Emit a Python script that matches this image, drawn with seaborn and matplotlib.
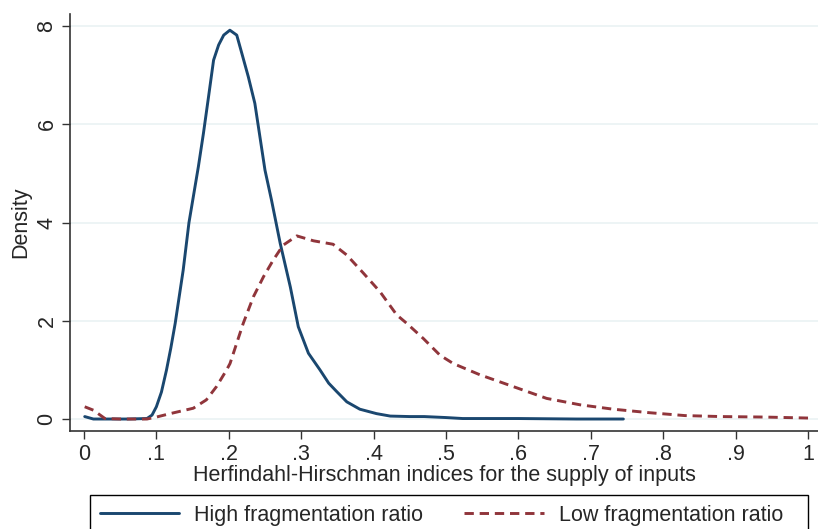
import numpy as np
import pandas as pd
import matplotlib
matplotlib.use("Agg")
import matplotlib.pyplot as plt
from matplotlib.lines import Line2D
from matplotlib.patches import Rectangle
import seaborn as sns

# High fragmentation ratio (kernel density)
high_x = [0.001, 0.013, 0.03, 0.06, 0.087, 0.094, 0.100, 0.107, 0.114, 0.120, 0.126,
          0.137, 0.145, 0.158, 0.165, 0.172, 0.179, 0.186, 0.193, 0.2015, 0.211, 0.218,
          0.227, 0.236, 0.243, 0.250, 0.259, 0.271, 0.285, 0.296, 0.310, 0.326, 0.338,
          0.349, 0.363, 0.381, 0.404, 0.423, 0.45, 0.47, 0.50, 0.523, 0.60, 0.68, 0.745]
high_y = [0.05, 0.0, 0.0, 0.0, 0.01, 0.08, 0.25, 0.55, 1.0, 1.45, 1.95,
          3.03, 4.0, 5.14, 5.82, 6.56, 7.31, 7.62, 7.82, 7.92, 7.82, 7.45,
          6.97, 6.43, 5.75, 5.07, 4.46, 3.58, 2.69, 1.88, 1.34, 1.0, 0.73,
          0.56, 0.35, 0.2, 0.11, 0.06, 0.05, 0.05, 0.03, 0.01, 0.01, 0.0, 0.0]

# Low fragmentation ratio
low_x = [0.001, 0.013, 0.029, 0.05, 0.087, 0.10, 0.119, 0.151, 0.169, 0.183, 0.197,
         0.2017, 0.22, 0.234, 0.248, 0.2615, 0.275, 0.294, 0.317, 0.344, 0.363, 0.386,
         0.409, 0.432, 0.4457, 0.4687, 0.4917, 0.51, 0.547, 0.593, 0.639, 0.685, 0.731,
         0.78, 0.83, 0.88, 0.94, 1.0]
low_y = [0.25, 0.18, 0.01, 0.0, 0.0, 0.04, 0.11, 0.22, 0.39, 0.66, 1.0,
         1.13, 1.95, 2.49, 2.9, 3.24, 3.54, 3.73, 3.63, 3.56, 3.34, 2.97,
         2.59, 2.12, 1.95, 1.64, 1.30, 1.13, 0.90, 0.66, 0.42, 0.29, 0.2,
         0.13, 0.07, 0.05, 0.04, 0.02]

series_names = ["High fragmentation ratio", "Low fragmentation ratio"]
x_ticks = [0, 0.1, 0.2, 0.3, 0.4, 0.5, 0.6, 0.7, 0.8, 0.9, 1.0]
x_tick_labels = ["0", ".1", ".2", ".3", ".4", ".5", ".6", ".7", ".8", ".9", "1"]
y_ticks = [0, 2, 4, 6, 8]

df = pd.concat([
    pd.DataFrame({"x": high_x, "y": high_y, "group": series_names[0]}),
    pd.DataFrame({"x": low_x, "y": low_y, "group": series_names[1]}),
])

sns.set_theme(style="white")
plt.rcParams["font.family"] = ["Liberation Sans", "DejaVu Sans"]

FS = 15.5
W, H = 818, 529
fig = plt.figure(figsize=(W / 100, H / 100), dpi=100)
ax = fig.add_axes([70 / W, 1 - 431 / H, (818 - 70) / W, (431 - 14) / H])

blue, red = "#1a476f", "#90353b"
palette = {series_names[0]: blue, series_names[1]: red}
sns.lineplot(data=df, x="x", y="y", hue="group", style="group", palette=palette,
             dashes={series_names[0]: "", series_names[1]: (3.2, 2.0)},
             linewidth=2.1, ax=ax, sort=False, estimator=None, legend=False)

ax.set_xlim(-0.0193, 1.0138)
ax.set_ylim(-0.244, 8.25)
ax.set_xticks(x_ticks)
ax.set_xticklabels(x_tick_labels)
ax.set_yticks(y_ticks)
ax.set_yticklabels([str(v) for v in y_ticks], rotation=90, va="center")
for v in y_ticks:
    ax.axhline(v, color="#eaf2f3", lw=1.2, zorder=0)

ax.tick_params(axis="both", direction="out", length=6, width=1, color="#333333",
               labelsize=FS, pad=3, bottom=True, left=True)
ax.set_xlabel("Herfindahl-Hirschman indices for the supply of inputs", fontsize=FS, labelpad=0)
ax.set_ylabel("Density", fontsize=FS, labelpad=4)

for s in ["top", "right"]:
    ax.spines[s].set_visible(False)
for s in ["left", "bottom"]:
    ax.spines[s].set_color("#333333")
    ax.spines[s].set_linewidth(1.2)

# legend box
fig.patches.append(Rectangle((90 / W, 1 - 540 / H), 718 / W, 45 / H,
                             transform=fig.transFigure, fill=False,
                             edgecolor="black", lw=1.0))
handles = [Line2D([], [], color=blue, lw=2.1),
           Line2D([], [], color=red, lw=2.1, dashes=(3.2, 2.0))]
leg = fig.legend(handles, series_names, loc="center left",
                 bbox_to_anchor=(90 / W, 1 - 515 / H),
                 ncol=2, fontsize=FS, frameon=False,
                 handlelength=3.7, handletextpad=0.7, columnspacing=1.9,
                 borderpad=0.0, borderaxespad=0.45)

fig.savefig("out.png", dpi=100)
